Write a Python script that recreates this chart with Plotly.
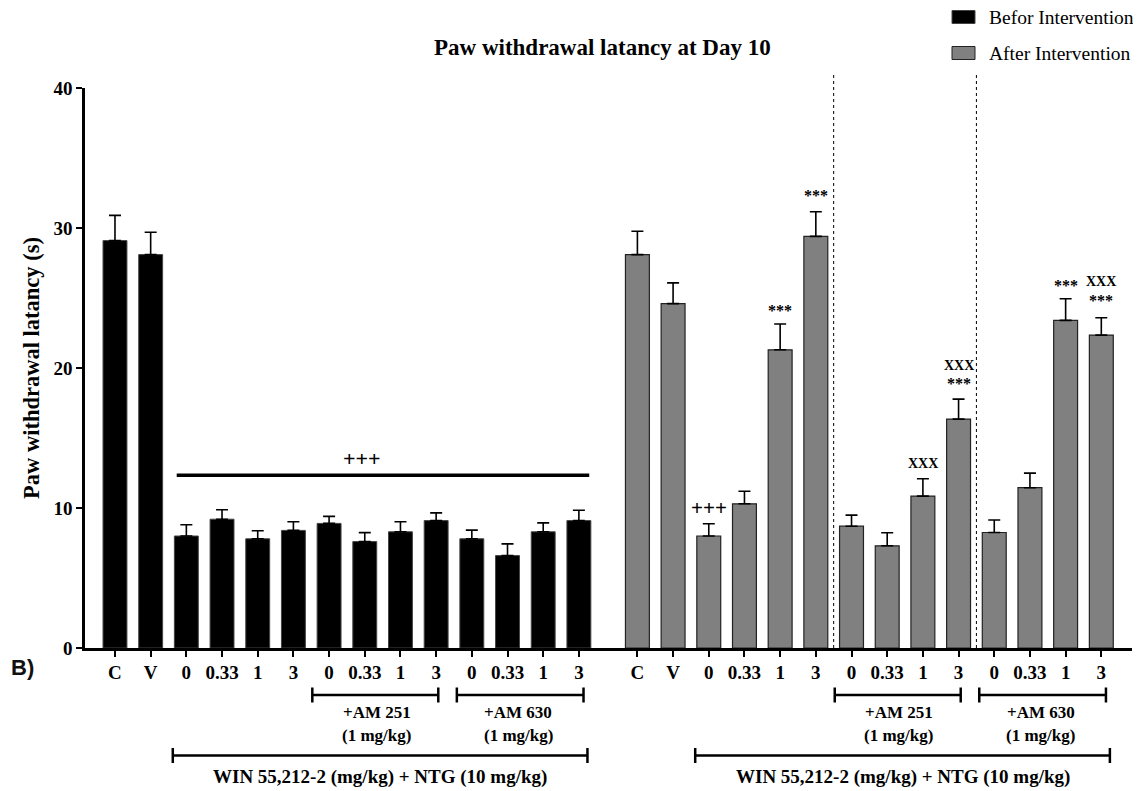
import plotly.graph_objects as go
import numpy as np

# ---------------- data ----------------
categories = ["C", "V", "0", "0.33", "1", "3", "0", "0.33", "1", "3", "0", "0.33", "1", "3"]
before_mean = [29.1, 28.1, 8.0, 9.2, 7.8, 8.4, 8.9, 7.6, 8.3, 9.1, 7.8, 6.6, 8.3, 9.1]
before_sem = [1.8, 1.6, 0.8, 0.67, 0.57, 0.62, 0.5, 0.64, 0.72, 0.55, 0.62, 0.84, 0.64, 0.74]
after_mean = [28.1, 24.6, 8.0, 10.3, 21.3, 29.4, 8.7, 7.3, 10.85, 16.35, 8.25, 11.45, 23.4, 22.35]
after_sem = [1.67, 1.48, 0.88, 0.9, 1.84, 1.76, 0.79, 0.93, 1.24, 1.43, 0.89, 1.04, 1.55, 1.24]
y_ticks = [0, 10, 20, 30, 40]

# significance marks on the "after" group: (bar index, text, value height)
after_marks = [
    (2, "+++", 10.0),
    (4, "***", 24.1),
    (5, "***", 32.3),
    (8, "XXX", 13.2),
    (9, "XXX", 20.2),
    (9, "***", 18.9),
    (12, "***", 25.9),
    (13, "XXX", 26.2),
    (13, "***", 24.8),
]

SERIF = "Liberation Serif, Times New Roman, serif"
n = len(categories)
GAP = 14.64
xb = np.arange(n, dtype=float)
xa = xb + GAP

# figure geometry (page has an 8px body margin)
W, H = 1133, 783
L, T, R, B = 77, 80, 9, 143
PW, PH = W - L - R, H - T - B


def px_to_paper_y(page_y):
    return (648 - page_y) / PH


def px_to_paper_x(page_x):
    return (page_x - 85) / PW


fig = go.Figure()
fig.add_trace(go.Bar(
    x=xb, y=before_mean, name="Befor Intervention", width=0.67,
    marker=dict(color="black", line=dict(color="#444444", width=1)),
    error_y=dict(type="data", array=before_sem, arrayminus=[0] * n, symmetric=False,
                 color="black", thickness=1.6, width=6),
    showlegend=False,
))
fig.add_trace(go.Bar(
    x=xa, y=after_mean, name="After Intervention", width=0.67,
    marker=dict(color="#808080", line=dict(color="#222222", width=1.2)),
    error_y=dict(type="data", array=after_sem, arrayminus=[0] * n, symmetric=False,
                 color="black", thickness=1.6, width=6),
    showlegend=False,
))

shapes = []
annotations = []

# +++ line over the before group
shapes.append(dict(type="line", xref="x", yref="y", x0=1.73, x1=13.29, y0=12.34, y1=12.34,
                   line=dict(color="black", width=3.5)))
annotations.append(dict(x=6.92, y=13.55, xref="x", yref="y", text="<b>+++</b>", showarrow=False,
                        xanchor="center", yanchor="middle",
                        font=dict(family=SERIF, size=22, color="black")))

for idx, txt, yv in after_marks:
    size = 21 if txt == "+++" else (16 if txt == "***" else 14)
    annotations.append(dict(x=xa[idx], y=yv, xref="x", yref="y", text="<b>%s</b>" % txt,
                            xanchor="center", yanchor="middle",
                            showarrow=False, font=dict(family=SERIF, size=size, color="black")))

# dotted separators in the after group
for xv in (xa[5] + 0.5, xa[9] + 0.5):
    shapes.append(dict(type="line", xref="x", yref="paper", x0=xv, x1=xv, y0=0, y1=px_to_paper_y(75),
                       line=dict(color="black", width=1, dash="dot")))

CAP = 7.5 / PH


def bracket(x0, x1, yp):
    shapes.append(dict(type="line", xref="x", yref="paper", x0=x0, x1=x1, y0=yp, y1=yp,
                       line=dict(color="black", width=2.5)))
    for xv in (x0, x1):
        shapes.append(dict(type="line", xref="x", yref="paper", x0=xv, x1=xv, y0=yp - CAP, y1=yp + CAP,
                           line=dict(color="black", width=2.5)))


for off in (0.0, GAP):
    bracket(5.53 + off, 9.06 + off, px_to_paper_y(695))
    bracket(9.58 + off, 13.13 + off, px_to_paper_y(695))
    bracket(1.62 + off, 13.24 + off, px_to_paper_y(755.5))
    for cx, lab in ((7.33 + off, "+AM 251"), (11.3 + off, "+AM 630")):
        annotations.append(dict(x=cx, y=px_to_paper_y(712.5), xref="x", yref="paper", text="<b>%s</b>" % lab,
                                xanchor="center", yanchor="middle",
                                showarrow=False, font=dict(family=SERIF, size=17, color="black")))
        annotations.append(dict(x=cx, y=px_to_paper_y(736), xref="x", yref="paper", text="<b>(1 mg/kg)</b>",
                                xanchor="center", yanchor="middle",
                                showarrow=False, font=dict(family=SERIF, size=17, color="black")))
    annotations.append(dict(x=7.43 + off, y=px_to_paper_y(777), xref="x", yref="paper",
                            text="<b>WIN 55,212-2 (mg/kg) + NTG (10 mg/kg)</b>",
                            xanchor="center", yanchor="middle",
                            showarrow=False, font=dict(family=SERIF, size=19, color="black")))

# panel letter
annotations.append(dict(x=px_to_paper_x(9), y=px_to_paper_y(667), xref="paper", yref="paper", text="<b>B)</b>",
                        showarrow=False, xanchor="left", yanchor="middle",
                        font=dict(family="Liberation Sans, Arial, sans-serif", size=22, color="#111111")))

# legend (drawn manually)
legend_items = [("Befor Intervention", "black", "#444444", 17), ("After Intervention", "#808080", "#222222", 53)]
for name, fill, edge, ypx in legend_items:
    yc = px_to_paper_y(ypx)
    shapes.append(dict(type="rect", xref="paper", yref="paper",
                       x0=px_to_paper_x(952), x1=px_to_paper_x(975),
                       y0=yc - 6.5 / PH, y1=yc + 6.5 / PH,
                       fillcolor=fill, line=dict(color=edge, width=1)))
    annotations.append(dict(x=px_to_paper_x(987), y=yc, xref="paper", yref="paper", text=name,
                            xanchor="left", yanchor="middle", showarrow=False,
                            font=dict(family=SERIF, size=19.5, color="black")))

# title
annotations.append(dict(x=px_to_paper_x(602), y=px_to_paper_y(47), xref="paper", yref="paper",
                        text="<b>Paw withdrawal latancy at Day 10</b>", showarrow=False,
                        xanchor="center", yanchor="middle",
                        font=dict(family=SERIF, size=23, color="black")))

fig.update_layout(
    width=W, height=H,
    margin=dict(l=L, r=R, t=T, b=B),
    plot_bgcolor="white", paper_bgcolor="white",
    barmode="overlay",
    shapes=shapes,
    annotations=annotations,
    showlegend=False,
)
fig.update_xaxes(
    range=[-0.84, 28.5], tickmode="array",
    tickvals=list(xb) + list(xa),
    ticktext=["<b>%s</b>" % c for c in categories] * 2,
    tickfont=dict(family=SERIF, size=19, color="black"),
    showline=True, linecolor="black", linewidth=2.5,
    ticks="outside", ticklen=6, tickwidth=2, tickcolor="black",
    showgrid=False, zeroline=False, ticklabelstandoff=-1,
)
fig.update_yaxes(
    range=[0, 40], tickmode="array", tickvals=y_ticks,
    ticktext=["<b>%d</b>" % v for v in y_ticks],
    tickfont=dict(family=SERIF, size=19, color="black"),
    showline=True, linecolor="black", linewidth=2.5,
    ticks="outside", ticklen=6, tickwidth=2, tickcolor="black",
    showgrid=False, zeroline=False,
    title=dict(text="<b>Paw withdrawal latancy (s)</b>", standoff=8,
               font=dict(family=SERIF, size=22.5, color="black")),
)

fig.write_html("out.html")
